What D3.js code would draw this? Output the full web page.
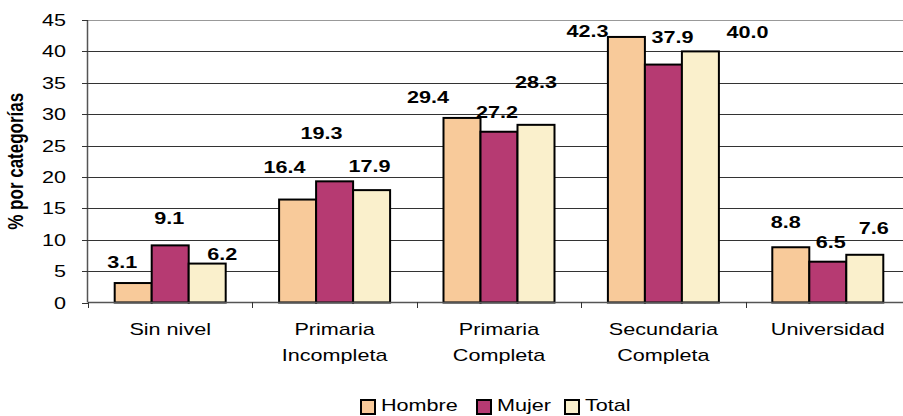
<!DOCTYPE html>
<html>
<head>
<meta charset="utf-8">
<script src="https://cdn.jsdelivr.net/npm/d3@7"></script>
<style>
  html, body { margin: 0; padding: 0; background: #fff; }
  svg { display: block; }
  text { font-family: "Liberation Sans", Arial, sans-serif; fill: #000; }
</style>
</head>
<body>
<div id="chart"></div>
<script>
// Nivel educativo alcanzado, por sexo (% por categorías)
const categories = [["Sin nivel"], ["Primaria", "Incompleta"], ["Primaria", "Completa"], ["Secundaria", "Completa"], ["Universidad"]];
const series = ["Hombre", "Mujer", "Total"];
const hombre = [3.1, 16.4, 29.4, 42.3, 8.8];
const mujer  = [9.1, 19.3, 27.2, 37.9, 6.5];
const total  = [6.2, 17.9, 28.3, 40.0, 7.6];
const yTicks = [0, 5, 10, 15, 20, 25, 30, 35, 40, 45];

// Manual nudges of the value labels (pixels, relative to bar centre / bar top)
const labelNudge = {
  Hombre: [[-11, -21], [-13, -33], [-34, -21], [-39, -6], [-5, -25]],
  Mujer:  [[-1, -27], [-13, -48], [-2, -20], [9, -28], [3, -20]],
  Total:  [[15, -10], [-2, -24], [0, -43], [47, -19], [9, -27]]
};

const colors = { Hombre: "#F8CA9A", Mujer: "#B63A72", Total: "#FAF0CC" };
const valuesBySeries = { Hombre: hombre, Mujer: mujer, Total: total };

const W = 903, H = 416;
const SX = 1.27; // horizontal text stretch
const svg = d3.select("#chart").append("svg").attr("width", W).attr("height", H);
svg.append("rect").attr("width", W).attr("height", H).attr("fill", "#fff");

const catKeys = categories.map(c => c.join(" "));
const x0 = d3.scaleBand().domain(catKeys).range([88, 910]).padding(0);
const x1 = d3.scaleBand().domain(series).range([-55.5, 55.5]).padding(0);
const y = d3.scaleLinear().domain([0, 45]).range([302.5, 20]);

// Gridlines
svg.append("g").selectAll("line").data(yTicks.filter(t => t > 0)).join("line")
  .attr("x1", 88).attr("x2", W)
  .attr("y1", d => Math.round(y(d)) + 0.5).attr("y2", d => Math.round(y(d)) + 0.5)
  .attr("stroke", d => d === 45 ? "#999" : "#333").attr("stroke-width", 1);

// Y axis
const yAxis = svg.append("g");
yAxis.append("line").attr("x1", 87.5).attr("x2", 87.5).attr("y1", y(45)).attr("y2", y(0))
  .attr("stroke", "#555").attr("stroke-width", 1.5);
yAxis.selectAll("line.tick").data(yTicks).join("line").attr("class", "tick")
  .attr("x1", 82).attr("x2", 88)
  .attr("y1", d => Math.round(y(d)) + 0.5).attr("y2", d => Math.round(y(d)) + 0.5)
  .attr("stroke", "#333");
yAxis.selectAll("text").data(yTicks).join("text")
  .attr("transform", d => `translate(66,${y(d) + 6}) scale(${SX},1)`)
  .attr("text-anchor", "end").attr("font-size", 17)
  .text(d => d);

// Y axis title
svg.append("text")
  .attr("transform", `translate(23,${(y(0) + y(45)) / 2}) scale(${SX},1) rotate(-90)`)
  .attr("text-anchor", "middle").attr("font-size", 17).attr("font-weight", "bold")
  .text("% por categorías");

// Bars
const groups = svg.append("g").selectAll("g").data(catKeys).join("g")
  .attr("transform", d => `translate(${x0(d) + x0.bandwidth() / 2},0)`);

groups.selectAll("rect").data((d, i) => series.map(s => ({ s, v: valuesBySeries[s][i] })))
  .join("rect")
  .attr("x", d => x1(d.s)).attr("width", x1.bandwidth())
  .attr("y", d => y(d.v)).attr("height", d => y(0) - y(d.v))
  .attr("fill", d => colors[d.s]).attr("stroke", "#000").attr("stroke-width", 2);

// X axis
const xAxis = svg.append("g");
xAxis.append("line").attr("x1", 88).attr("x2", W).attr("y1", 302.5).attr("y2", 302.5)
  .attr("stroke", "#555").attr("stroke-width", 1.5);
xAxis.selectAll("line.tick").data(catKeys).join("line").attr("class", "tick")
  .attr("x1", d => Math.round(x0(d)) + 0.5).attr("x2", d => Math.round(x0(d)) + 0.5)
  .attr("y1", 302).attr("y2", 308).attr("stroke", "#333");

xAxis.selectAll("g.lab").data(categories).join("g").attr("class", "lab")
  .each(function (lines, i) {
    const cx = x0(catKeys[i]) + x0.bandwidth() / 2;
    d3.select(this).selectAll("text").data(lines).join("text")
      .attr("transform", (t, j) => `translate(${cx},${335 + j * 26}) scale(${SX},1)`)
      .attr("text-anchor", "middle").attr("font-size", 17)
      .text(t => t);
  });

// Value labels
groups.selectAll("text").data((d, i) => series.map(s => ({ s, i, v: valuesBySeries[s][i] })))
  .join("text")
  .attr("transform", d => {
    const [dx, dy] = labelNudge[d.s][d.i];
    const cx = x1(d.s) + x1.bandwidth() / 2 + dx;
    return `translate(${cx},${y(d.v) + dy + 6}) scale(${SX},1)`;
  })
  .attr("text-anchor", "middle").attr("font-size", 17).attr("font-weight", "bold")
  .text(d => d.v.toFixed(1));

// Legend
const legendX = { Hombre: 361, Mujer: 477, Total: 565 };
const legend = svg.append("g").selectAll("g").data(series).join("g")
  .attr("transform", s => `translate(${legendX[s]},0)`);
legend.append("rect").attr("x", 0).attr("y", 400).attr("width", 14).attr("height", 14)
  .attr("fill", s => colors[s]).attr("stroke", "#000").attr("stroke-width", 2);
legend.append("text")
  .attr("transform", `translate(20,411) scale(${SX},1)`)
  .attr("font-size", 17)
  .text(s => s);
</script>
</body>
</html>
